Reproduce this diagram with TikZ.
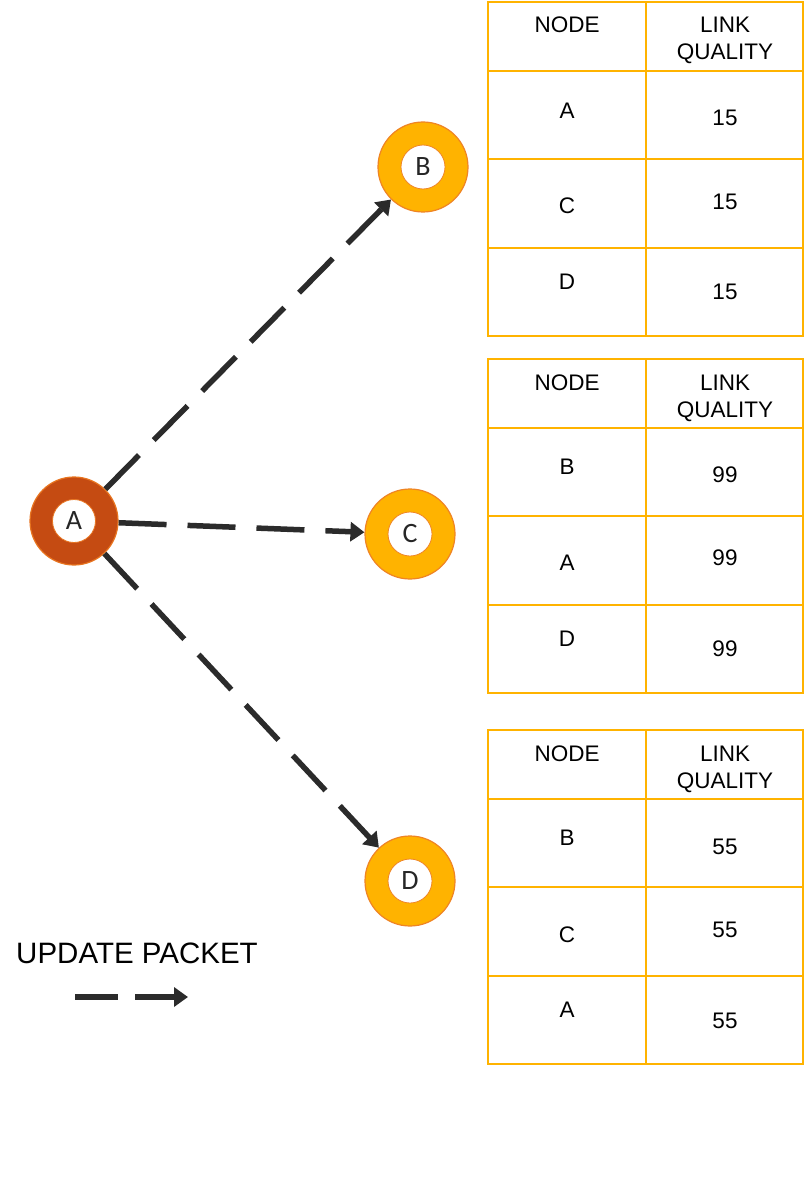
\documentclass[tikz,border=0pt]{standalone}
\usepackage{fontspec}
\setmainfont{Liberation Sans}
\newfontfamily\nodefont{Carlito}
\usetikzlibrary{arrows.meta}
\definecolor{darkor}{HTML}{C54B12}
\definecolor{darkorb}{HTML}{E8741F}
\definecolor{amber}{HTML}{FFB300}
\definecolor{amberb}{HTML}{EF8424}
\definecolor{tabline}{HTML}{FFB300}
\definecolor{pkt}{HTML}{2B2B2B}
\tikzset{
  outerA/.style={circle, fill=darkor, draw=darkorb, line width=1.2pt, minimum size=88pt, inner sep=0pt},
  outerN/.style={circle, fill=amber, draw=amberb, line width=1.2pt, minimum size=90pt, inner sep=0pt},
  innerA/.style={circle, fill=white, draw=darkorb, line width=0.8pt, minimum size=43pt, inner sep=0pt, font=\nodefont\fontsize{28}{32}\selectfont, text=black!85},
  innerN/.style={circle, fill=white, draw=amberb, line width=0.8pt, minimum size=44pt, inner sep=0pt, font=\nodefont\fontsize{28}{32}\selectfont, text=black!85},
  packet/.style={draw=pkt, line width=5.5pt, dash pattern=on 48pt off 21pt, -{Triangle[length=14pt,width=19pt]}},
  tab/.style={draw=tabline, line width=1.8pt},
  cell/.style={font=\fontsize{22.5}{27}\selectfont, inner sep=0pt, align=center},
}
\begin{document}
\begin{tikzpicture}[x=1pt,y=-1pt]
\useasboundingbox (0,0) rectangle (806,1198);
\fill[white] (0,0) rectangle (806,1198);

% nodes
\node[outerA] (A) at (74,521) {};
\node[outerN] (B) at (423,167) {};
\node[outerN] (C) at (410,534) {};
\node[outerN] (D) at (410,881) {};

% connectors
\draw[packet] (A) -- (B);
\draw[packet] (A) -- (C);
\draw[packet] (A) -- (D);

\node[innerA] (Ai) at (A) {A};
\node[innerN] (Bi) at (B) {B};
\node[innerN] (Ci) at (C) {C};
\node[innerN] (Di) at (D) {D};

% tables
\foreach \T in {2,359,730}{
  \draw[tab] (488,\T) rectangle (803,\T+334);
  \draw[tab] (646,\T) -- (646,\T+334);
  \draw[tab] (488,\T+69) -- (803,\T+69);
  \draw[tab] (488,\T+157) -- (803,\T+157);
  \draw[tab] (488,\T+246) -- (803,\T+246);
}
% table 1
\node[cell, anchor=base] (h1a) at (567,33) {NODE};
\node[cell, anchor=base] (h1b) at (725,60) {LINK\\QUALITY};
\node[cell] (r1a) at (567,111) {A};
\node[cell] (v1a) at (725,118) {15};
\node[cell] (r1b) at (567,206) {C};
\node[cell] (v1b) at (725,202) {15};
\node[cell] (r1c) at (567,282) {D};
\node[cell] (v1c) at (725,292) {15};
% table 2
\node[cell, anchor=base] (h2a) at (567,390) {NODE};
\node[cell, anchor=base] (h2b) at (725,417) {LINK\\QUALITY};
\node[cell] (r2a) at (567,467) {B};
\node[cell] (v2a) at (725,475) {99};
\node[cell] (r2b) at (567,563) {A};
\node[cell] (v2b) at (725,558) {99};
\node[cell] (r2c) at (567,639) {D};
\node[cell] (v2c) at (725,649) {99};
% table 3
\node[cell, anchor=base] (h3a) at (567,761) {NODE};
\node[cell, anchor=base] (h3b) at (725,788) {LINK\\QUALITY};
\node[cell] (r3a) at (567,838) {B};
\node[cell] (v3a) at (725,847) {55};
\node[cell] (r3b) at (567,935) {C};
\node[cell] (v3b) at (725,930) {55};
\node[cell] (r3c) at (567,1010) {A};
\node[cell] (v3c) at (725,1021) {55};

% legend
\node[font=\fontsize{29.5}{34}\selectfont, inner sep=0pt] (leg) at (137,953) {UPDATE PACKET};
\coordinate (l1) at (75,997);
\coordinate (l2) at (188,997);
\draw[packet, dash pattern=on 43pt off 17pt] (l1) -- (l2);
\end{tikzpicture}
\end{document}
